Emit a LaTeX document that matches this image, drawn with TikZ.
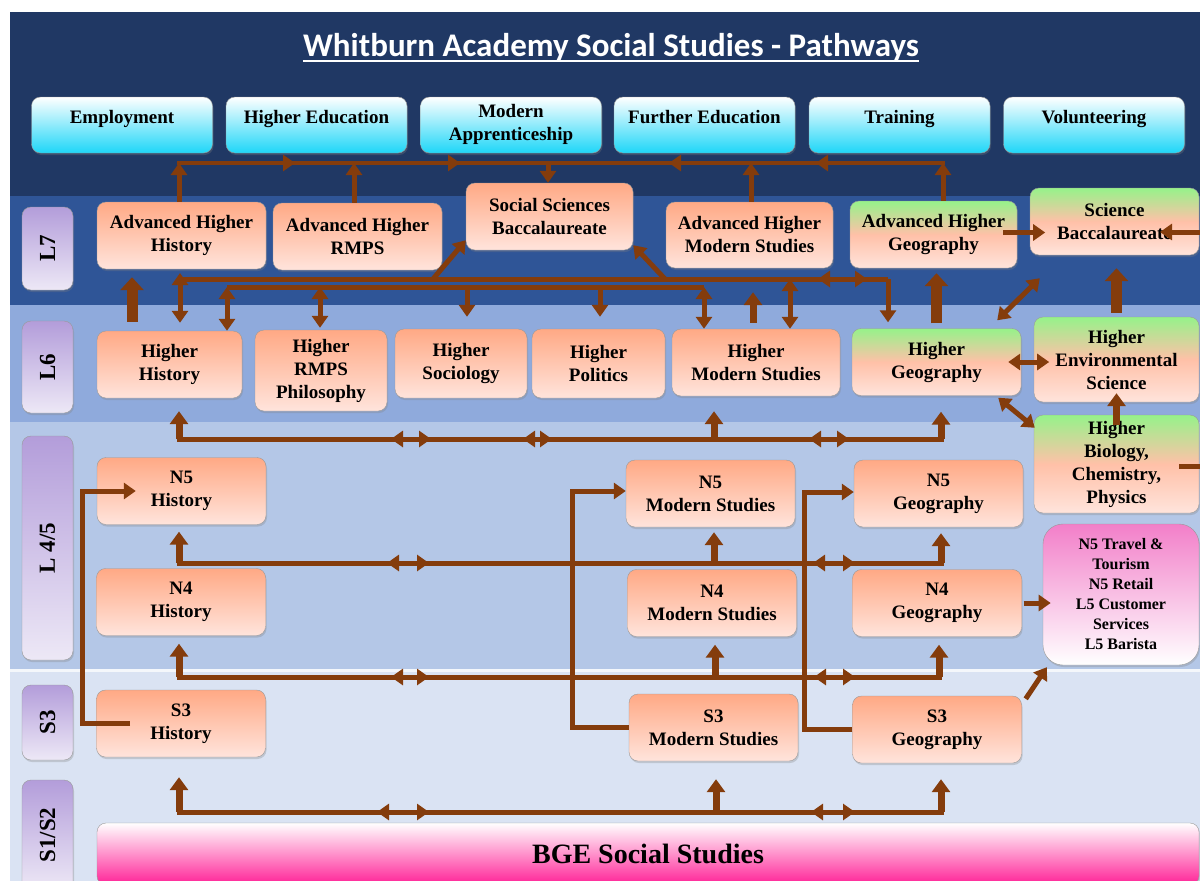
\documentclass[tikz,border=0pt]{standalone}
\usepackage{fontspec}
\setmainfont{Liberation Serif}
\newfontfamily\headfont{Carlito}
\usepackage{tikz}
\usetikzlibrary{arrows.meta, positioning, shadows, decorations.markings}
\definecolor{navy}{HTML}{203864}
\definecolor{bandseven}{HTML}{2F5597}
\definecolor{bandsix}{HTML}{8FAADC}
\definecolor{bandfour}{HTML}{B4C7E7}
\definecolor{bandthree}{HTML}{DAE3F3}
\definecolor{brn}{HTML}{843C0C}
\definecolor{peach}{HTML}{FFA985}
\definecolor{blush}{HTML}{FFE4DC}
\definecolor{lime}{HTML}{96F28A}
\definecolor{aqua}{HTML}{1ED6F8}
\definecolor{rose}{HTML}{F27FC9}
\definecolor{hotpink}{HTML}{FF2196}
\definecolor{lilac}{HTML}{B39DDA}
\definecolor{lavender}{HTML}{EDE8F6}
\tikzset{
    >={Triangle[width=16pt,length=12pt]}, % default arrow head
    box/.style={draw=gray!80, rounded corners=9pt, align=center, inner sep=2pt,
        font=\fontsize{19}{23}\selectfont\bfseries,
        drop shadow={shadow xshift=1pt, shadow yshift=-2pt, opacity=.3}}, % every box
    subj/.style={box, top color=peach, bottom color=blush, minimum width=169pt, minimum height=67pt}, % subject boxes
    sci/.style={subj, top color=lime, bottom color=blush, middle color=peach!60!blush}, % science boxes
    dest/.style={box, top color=white, bottom color=aqua, minimum width=181pt, minimum height=56pt}, % where pupils go next
    lvl/.style={box, rotate=90, top color=lilac, bottom color=lavender, minimum height=51pt,
        font=\fontsize{23}{26}\selectfont\bfseries}, % level tabs on the left
    wire/.style={draw=brn, line width=5pt}, % brown connector
    riser/.style={draw=brn, line width=7pt, -{Triangle[width=18pt,length=13pt]}},
    fat/.style={draw=brn, line width=11pt, -{Triangle[width=23pt,length=13pt]}},
    twin/.style={wire, <->},
    via/.style={postaction={decorate, decoration={markings, mark=at position #1 with {\arrow{>}}}}},
    dbl/.style 2 args={postaction={decorate, decoration={markings,
        mark=at position #1 with {\arrowreversed{>}}, mark=at position #2 with {\arrow{>}}}}},
}

\begin{document}
\begin{tikzpicture}[x=1pt, y=-1pt]
    \useasboundingbox (0,0) rectangle (1200,881);
    % bands
    \fill[white] (0,0) rectangle (1200,881);
    \fill[navy] (10,12) rectangle (1200,196);
    \fill[bandseven] (10,196) rectangle (1200,305);
    \fill[bandsix] (10,305) rectangle (1200,422);
    \fill[bandfour] (10,422) rectangle (1200,670);
    \fill[bandthree] (10,670) rectangle (1200,881);
    \fill[white!70!bandthree] (10,669) rectangle (1200,671.5);

    \node[font=\headfont\bfseries\fontsize{33}{40}\selectfont, text=white, inner sep=0pt, anchor=base] (ttl) at (611,56) {Whitburn Academy Social Studies - Pathways};
    \draw[white, line width=2.4pt] ([yshift=-5pt]ttl.base west) -- ([yshift=-5pt]ttl.base east);

    % level tabs
    \node[lvl, minimum width=83pt] (lvseven) at (47.5,248.5) {L7};
    \node[lvl, minimum width=92pt] (lvsix) at (47.5,367) {L6};
    \node[lvl, minimum width=224pt] (lvfour) at (47.5,548) {L 4/5};
    \node[lvl, minimum width=75pt] (lvthree) at (47.5,722.5) {S3};
    \node[lvl, minimum width=110pt] (lvone) at (47.5,835) {S1/S2};

    % destinations
    \node[dest] (emp) at (122,125) {Employment\\[-6pt]~};
    \node[dest] (hed) at (316.5,125) {Higher Education\\[-6pt]~};
    \node[dest] (mapp) at (511,125) {Modern\\Apprenticeship\\[-18pt]~};
    \node[dest] (fed) at (704.5,125) {Further Education\\[-6pt]~};
    \node[dest] (trn) at (899.5,125) {Training\\[-6pt]~};
    \node[dest] (vol) at (1094,125) {Volunteering\\[-6pt]~};

    % L7
    \node[subj] (ahhist) at (181.5,235.5) {Advanced Higher\\History};
    \node[subj] (ahrmps) at (357.5,236.5) {Advanced Higher\\RMPS};
    \node[subj, minimum width=167pt] (ssb) at (549.5,216.5) {Social Sciences\\Baccalaureate};
    \node[subj, minimum width=167pt, minimum height=66pt] (ahms) at (749.5,235) {Advanced Higher\\Modern Studies};
    \node[sci, minimum width=167pt] (ahgeo) at (933.5,234.5) {Advanced Higher\\Geography};
    \node[sci] (scib) at (1114.5,221.5) {Science\\Baccalaureate};

    % L6
    \node[subj, minimum width=145pt] (hhist) at (169.5,364.5) {Higher\\History};
    \node[subj, minimum width=132pt, minimum height=81pt] (hrmps) at (321,370.5) {Higher\\RMPS\\Philosophy};
    \node[subj, minimum width=132pt, minimum height=69pt] (hsoc) at (461,363.5) {Higher\\Sociology};
    \node[subj, minimum width=133pt, minimum height=69pt] (hpol) at (598.5,363.5) {Higher\\Politics};
    \node[subj, minimum width=168pt] (hms) at (756,362.5) {Higher\\Modern Studies};
    \node[sci] (hgeo) at (936.5,362) {Higher\\Geography};
    \node[sci, minimum width=165pt, minimum height=85pt] (hes) at (1116.5,359.5) {Higher\\Environmental\\Science};
    \node[sci, minimum width=165pt, minimum height=98pt] (hbcp) at (1116.5,464) {Higher\\Biology,\\Chemistry,\\Physics};

    % L4/5
    \node[subj] (nfhist) at (181.5,491) {N5\\History};
    \node[subj] (nfms) at (710.5,493.5) {N5\\Modern Studies};
    \node[subj] (nfgeo) at (938.5,493.5) {N5\\Geography};
    \node[subj] (n4hist) at (181,602) {N4\\History};
    \node[subj] (n4ms) at (712,603) {N4\\Modern Studies};
    \node[subj] (n4geo) at (937,603) {N4\\Geography};
    \node[box, rounded corners=20pt, top color=rose, bottom color=white, minimum width=156pt, minimum height=141pt,
        font=\fontsize{16}{20}\selectfont\bfseries] (voc) at (1121,594.5) {N5 Travel \&\\Tourism\\N5 Retail\\L5 Customer\\Services\\L5 Barista};

    % S3 and BGE
    \node[subj] (sthist) at (181,723.5) {S3\\History};
    \node[subj] (stms) at (713.5,727.5) {S3\\Modern Studies};
    \node[subj] (stgeo) at (937,729.5) {S3\\Geography};
    \node[box, top color=white, bottom color=hotpink, minimum width=1102pt, minimum height=62pt,
        font=\fontsize{28}{32}\selectfont\bfseries] (bge) at (648,854) {BGE Social Studies};

    % top bus
    \coordinate (ta) at (179,163);
    \coordinate (tb) at (354,163);
    \coordinate (tc) at (548,163);
    \coordinate (td) at (751,163);
    \coordinate (te) at (943,163);
    \draw[wire, line width=4.5pt, line cap=rect, via=116pt, via=281pt] (ta) -- (tc);
    \draw[wire, line width=4.5pt, line cap=rect, via=127pt, via=274pt] (te) -- (tc);
    \draw[wire,->] (ahhist.north -| ta) -- (ta);
    \draw[wire,->] (ahrmps.north -| tb) -- (tb);
    \draw[wire,->] (ahms.north -| td) -- (td);
    \draw[wire,->] (ahgeo.north -| te) -- (te);
    \draw[wire,->] (tc) -- (ssb.north -| tc);

    % L7 / L6 links
    \coordinate (ua) at (180,279);
    \coordinate (ub) at (433,279);
    \coordinate (uc) at (665,279);
    \coordinate (ud) at (790,279);
    \coordinate (ue) at (888,279);
    \coordinate (la) at (227,287);
    \coordinate (lb) at (320,287);
    \coordinate (lc) at (467,287);
    \coordinate (ld) at (600,287);
    \coordinate (le) at (704,287);
    \coordinate (fx) at (132,300);
    \coordinate (mo) at (753,300);
    \draw[wire, dbl={638pt}{687pt}] (ua) -- (ue);
    \draw[wire,->, shorten >=6pt] (ue) -- (hgeo.north -| ue);
    \draw[twin, shorten >=8pt] ([yshift=6pt]ua) -- (hhist.north -| ua);
    \draw[wire,->] (ub) -- ([yshift=10pt]ssb.south west);
    \draw[wire,->] (uc) -- ([yshift=5pt]ssb.south east);
    \draw[twin] (ud) -- (hms.north -| ud);
    \draw[wire] (la) -- (le);
    \draw[twin] (la) -- (hhist.north -| la);
    \draw[twin, shorten >=2pt] (lb) -- (hrmps.north -| lb);
    \draw[wire,->, shorten >=12pt] (lc) -- (hsoc.north -| lc);
    \draw[wire,->, shorten >=12pt] (ld) -- (hpol.north -| ld);
    \draw[twin] (le) -- (hms.north -| le);
    \draw[riser, shorten <=6pt, shorten >=24pt] (mo |- hms.north) -- (mo |- ahms.south);
    \draw[fat, shorten <=9pt, shorten >=8pt] (fx |- hhist.north) -- (fx |- ahhist.south);
    \draw[fat, shorten <=5pt, shorten >=5pt] (hgeo.north) -- (hgeo.north |- ahgeo.south);

    % science side
    \coordinate (off) at (1215,232);
    \coordinate (sbin) at (1160,232);
    \draw[fat, shorten <=4pt, shorten >=13pt] (hes.north) -- (hes.north |- scib.south);
    \draw[twin] ([xshift=-24pt,yshift=8pt]hgeo.north east) -- ([xshift=10pt,yshift=-23pt]scib.south west);
    \draw[wire,->] ([xshift=-14pt,yshift=2pt]ahgeo.east) -- ++(42,0);
    \draw[wire,->] ([xshift=-20pt,yshift=-2pt]hbcp.east) -| (off) -- (sbin);
    \draw[twin] ([xshift=-13pt]hgeo.east) -- ++(41,0);
    \draw[twin] ([xshift=-23pt,yshift=-2pt]hgeo.south east) -- ([xshift=1pt,yshift=-13pt]hbcp.north west);
    \draw[riser] ([yshift=-10pt]hbcp.north) -- ([yshift=9pt]hes.south);

    % L6 bus
    \coordinate (sa) at (179,439);
    \coordinate (sb) at (714,439);
    \coordinate (sc) at (941,439);
    \draw[wire, line cap=rect, dbl={212pt}{252pt}, dbl={344pt}{373pt}, dbl={630pt}{670pt}] (sa) -- (sc);
    \draw[riser, shorten >=13pt] (sa) -- (hhist.south -| sa);
    \draw[riser, shorten >=15pt] (sb) -- (hms.south -| sb);
    \draw[riser, shorten >=16pt] (sc) -- (hgeo.south -| sc);

    % N5 bus
    \coordinate (na) at (179,563);
    \coordinate (nb) at (714,563);
    \coordinate (nc) at (941,563);
    \draw[wire, line cap=rect, dbl={208pt}{250pt}, dbl={634pt}{676pt}] (na) -- (nc);
    \draw[riser, shorten >=7pt] (na) -- (nfhist.south -| na);
    \draw[riser, shorten >=5pt] (nb) -- (nfms.south -| nb);
    \draw[riser, shorten >=6pt] (nc) -- (nfgeo.south -| nc);

    % N4 bus
    \coordinate (fa) at (179,677);
    \coordinate (fb) at (715,677);
    \coordinate (fc) at (939,677);
    \draw[wire, line cap=rect, dbl={212pt}{250pt}, dbl={635pt}{676pt}] (fa) -- (fc);
    \draw[riser, shorten >=8pt] (fa) -- (n4hist.south -| fa);
    \draw[riser, shorten >=8pt] (fb) -- (n4ms.south -| fb);
    \draw[riser, shorten >=8pt] (fc) -- (n4geo.south -| fc);

    % BGE bus
    \coordinate (ba) at (179,812);
    \coordinate (bb) at (716,812);
    \coordinate (bc) at (941,812);
    \draw[wire, line cap=rect, dbl={198pt}{250pt}, dbl={632pt}{676pt}] (ba) -- (bc);
    \draw[riser, shorten >=20pt] (ba) -- (sthist.south -| ba);
    \draw[riser, shorten >=18pt] (bb) -- (stms.south -| bb);
    \draw[riser, shorten >=16pt] (bc) -- (stgeo.south -| bc);

    % S3 up to N5 and vocational
    \coordinate (hx) at (82,491);
    \coordinate (mx) at (572,491);
    \coordinate (gx) at (804,492);
    \draw[wire,->] ([xshift=-51pt]sthist.center) -| (hx) -- ([xshift=39pt]nfhist.west);
    \draw[wire,->] (stms.west) -| (mx) -- (nfms.west |- mx);
    \draw[wire,->] (stgeo.west) -| (gx) -- (nfgeo.west |- gx);
    \draw[wire,->] ([xshift=4pt,yshift=-3pt]stgeo.north east) -- ([xshift=4pt,yshift=-2pt]voc.south west);
    \draw[wire,->] ([xshift=2pt]n4geo.east) -- ++(27,0);
\end{tikzpicture}
\end{document}
